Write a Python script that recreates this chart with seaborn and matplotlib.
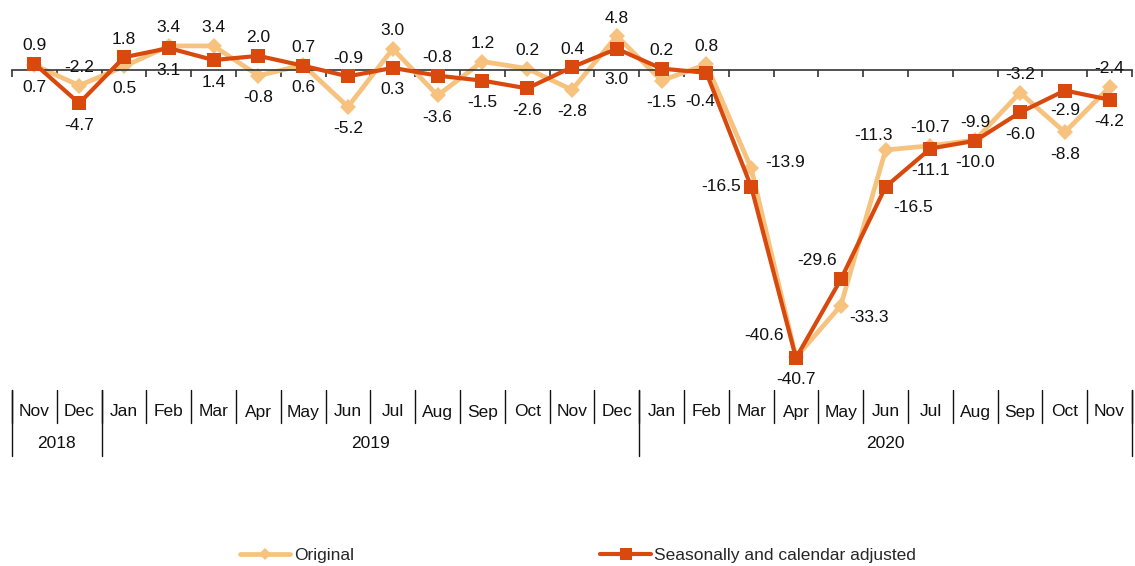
import numpy as np
import pandas as pd
import matplotlib
matplotlib.use("Agg")
import matplotlib.pyplot as plt
import matplotlib.transforms as mtransforms
from matplotlib.lines import Line2D
import seaborn as sns

# Datos
months = ["Nov", "Dec", "Jan", "Feb", "Mar", "Apr", "May", "Jun", "Jul", "Aug", "Sep", "Oct", "Nov",
          "Dec", "Jan", "Feb", "Mar", "Apr", "May", "Jun", "Jul", "Aug", "Sep", "Oct", "Nov"]
years = ["2018", "2019", "2020"]
year_len = [2, 12, 11]

original = [0.7, -2.2, 0.5, 3.4, 3.4, -0.8, 0.7, -5.2, 3.0, -3.6, 1.2, 0.2, -2.8,
            4.8, -1.5, 0.8, -13.9, -40.6, -33.3, -11.3, -10.7, -9.9, -3.2, -8.8, -2.4]
adjusted = [0.9, -4.7, 1.8, 3.1, 1.4, 2.0, 0.6, -0.9, 0.3, -0.8, -1.5, -2.6, 0.4,
            3.0, 0.2, -0.4, -16.5, -40.7, -29.6, -16.5, -11.1, -10.0, -6.0, -2.9, -4.2]

c_orig = "#F6C27E"
c_adj = "#D9490E"
fs = 12.5

sns.set_style("white")
plt.rcParams["font.family"] = ["Liberation Sans", "DejaVu Sans"]

fig = plt.figure(figsize=(11.35, 5.66), dpi=100)
W, H = 1135, 566
ax = fig.add_axes([12 / W, 1 - 380 / H, 1120 / W, 380 / H])

x = np.arange(len(months))
df = pd.DataFrame({"x": x, "orig": original, "adj": adjusted})

sns.lineplot(data=df, x="x", y="orig", ax=ax, color=c_orig, lw=3.4, marker="D",
             markersize=8, markeredgewidth=0, zorder=2)
sns.lineplot(data=df, x="x", y="adj", ax=ax, color=c_adj, lw=3, marker="s",
             markersize=10, markeredgewidth=0, zorder=3)

# escala: cero en y=70px, -40.7 en y=358px
ppu = (358 - 70) / 40.7
ax.set_ylim(-(380 - 70) / ppu, 70 / ppu)
ax.set_xlim(-0.5, len(months) - 0.5)

for s in ["top", "right", "left"]:
    ax.spines[s].set_visible(False)
ax.spines["bottom"].set_position(("data", 0))
ax.spines["bottom"].set_color("#333333")
ax.spines["bottom"].set_linewidth(1.2)
ax.set_xticks(np.arange(len(months) + 1) - 0.5)
ax.set_xticklabels([])
ax.tick_params(axis="x", direction="out", length=5, width=1.2, color="#333333", bottom=True)
ax.set_yticks([])
ax.set_xlabel("")
ax.set_ylabel("")

# etiquetas de datos
special = {
    (13, "a"): (0, -31, "center", "center"),
    (15, "a"): (-6, -29, "center", "center"),
    (16, "o"): (14, 6, "left", "center"),
    (16, "a"): (-10, 0, "right", "center"),
    (17, "o"): (-12, 22, "right", "center"),
    (18, "a"): (-4, 19, "right", "center"),
    (18, "o"): (8, -12, "left", "center"),
    (19, "o"): (-12, 14, "center", "center"),
    (19, "a"): (8, -21, "left", "center"),
    (23, "a"): (0, -20, "center", "center"),
}
for i in range(len(months)):
    for key, val, other in (("o", original[i], adjusted[i]), ("a", adjusted[i], original[i])):
        if (i, key) in special:
            dx, dy, ha, va = special[(i, key)]
        elif val >= other:
            dx, dy, ha, va = 0, 18, "center", "center"
        else:
            dx, dy, ha, va = 0, -22, "center", "center"
        ax.annotate(f"{val:.1f}", (i, val), xytext=(dx * 0.72, dy * 0.72), textcoords="offset points",
                    ha=ha, va=va, fontsize=fs, color="#111111", zorder=5)

# tabla de categorias
tr = mtransforms.blended_transform_factory(ax.transData, fig.transFigure)
fy = lambda px: 1 - px / H
for i, m in enumerate(months):
    ax.text(i, fy(412), m, transform=tr, ha="center", va="center", fontsize=fs, color="#111111")
for b in range(len(months) + 1):
    ax.plot([b - 0.5, b - 0.5], [fy(390), fy(423)], transform=tr, color="#111111", lw=1, clip_on=False)
start = 0
for y, n in zip(years, year_len):
    ax.plot([start - 0.5, start - 0.5], [fy(390), fy(456)], transform=tr, color="#111111", lw=1, clip_on=False)
    ax.text(start - 0.5 + n / 2, fy(443), y, transform=tr, ha="center", va="center", fontsize=fs, color="#111111")
    start += n
ax.plot([start - 0.5, start - 0.5], [fy(390), fy(456)], transform=tr, color="#111111", lw=1, clip_on=False)

# leyenda
handles = [Line2D([], [], color=c_orig, lw=3.4, marker="D", markersize=6, markeredgewidth=0),
           Line2D([], [], color=c_adj, lw=3, marker="s", markersize=9, markeredgewidth=0)]
fig.legend(handles, ["Original", "Seasonally and calendar adjusted"], loc="center",
           bbox_to_anchor=(578 / W, fy(555)), ncol=2, frameon=False, fontsize=fs,
           handlelength=2.9, handletextpad=0.2, columnspacing=14.2)

fig.savefig("out.png", dpi=100)
